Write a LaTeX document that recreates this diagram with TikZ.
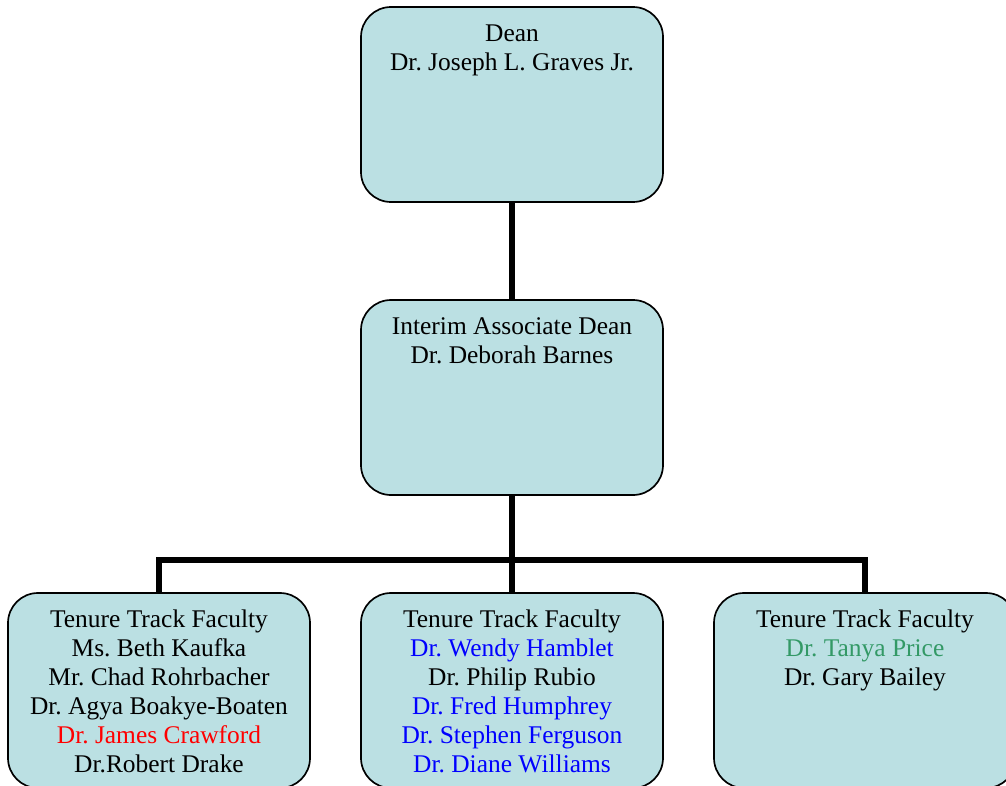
\documentclass[tikz,border=0pt]{standalone}
\usepackage{fontspec}
\setmainfont{Liberation Serif}
\usepackage[]{xcolor}
\usepackage{tikz}
\usetikzlibrary{shapes, positioning, calc}
\definecolor{boxfill}{HTML}{BBE0E3}
\definecolor{nameblue}{HTML}{0000FF}
\definecolor{namered}{HTML}{FF0000}
\definecolor{namegreen}{HTML}{339966}
\tikzstyle{block} = [rectangle, draw, line width=1.2pt, rounded corners=0.75cm, fill=boxfill, inner sep=0pt, outer sep=0pt, minimum width=7.55cm, minimum height=4.875cm]
\tikzstyle{link} = [line width=4pt, line join=miter]
\newcommand{\boxtext}[1]{\parbox[c][4.875cm][t]{7.55cm}{\centering\frenchspacing\fontsize{18.1}{20.6}\selectfont\vspace*{0.36cm}\strut #1}}

\begin{document}
\begin{tikzpicture}
		\clip (0,0) rectangle (25.15,-19.625);
		\useasboundingbox (0,0) rectangle (25.15,-19.625);

		\node [block] (dean) at (12.8,-2.6125) {
			\boxtext{Dean\\
				Dr. Joseph L. Graves Jr.}
		};

		\node [block, below=2.45cm of dean] (assoc) {
			\boxtext{Interim Associate Dean\\
				Dr. Deborah Barnes}
		};

		\node [block, below=2.45cm of assoc] (ttfmid) {
			\boxtext{Tenure Track Faculty\\
				\textcolor{nameblue}{Dr. Wendy Hamblet}\\
				Dr. Philip Rubio\\
				\textcolor{nameblue}{Dr. Fred Humphrey}\\
				\textcolor{nameblue}{Dr. Stephen Ferguson}\\
				\textcolor{nameblue}{Dr. Diane Williams}}
		};

		\node [block, left=1.275cm of ttfmid] (ttfleft) {
			\boxtext{Tenure Track Faculty\\
				Ms. Beth Kaufka\\
				Mr. Chad Rohrbacher\\
				Dr. Agya Boakye-Boaten\\
				\textcolor{namered}{Dr. James Crawford}\\
				Dr.Robert Drake}
		};

		\node [block, right=1.275cm of ttfmid] (ttfright) {
			\boxtext{Tenure Track Faculty\\
				\textcolor{namegreen}{Dr. Tanya Price}\\
				Dr. Gary Bailey}
		};

		\coordinate [below=1.625cm of assoc.south] (bus);

		\draw[link] (dean.south) -- (assoc.north);
		\draw[link] (assoc.south) -- (ttfmid.north);
		\draw[link] (ttfleft.north) |- (bus) -| (ttfright.north);

	\end{tikzpicture}
\end{document}
